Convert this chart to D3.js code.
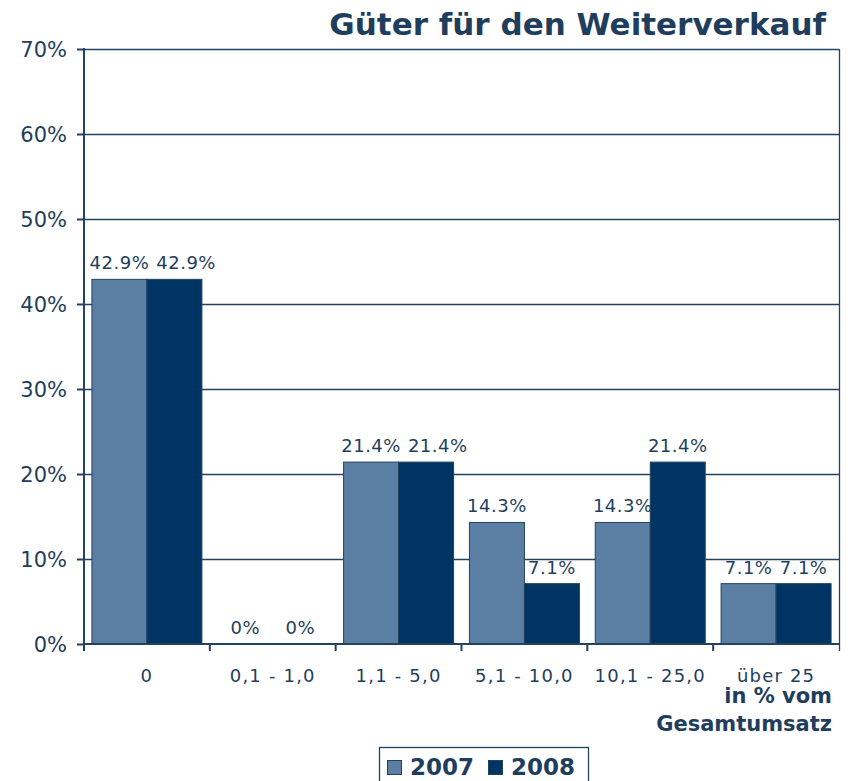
<!DOCTYPE html>
<html>
<head>
<meta charset="utf-8">
<script src="https://cdn.jsdelivr.net/npm/d3@7"></script>
<style>
    body { margin: 0; background: #fff; }
    svg { display: block; font-family: "DejaVu Sans", Verdana, sans-serif; }
</style>
</head>
<body>
<svg id="chart" width="850" height="781"></svg>
<script>
const categories = ["0", "0,1 - 1,0", "1,1 - 5,0", "5,1 - 10,0", "10,1 - 25,0", "über 25"];
const years = ["2007", "2008"];
const values2007 = [42.9, 0, 21.4, 14.3, 14.3, 7.1];
const values2008 = [42.9, 0, 21.4, 7.1, 21.4, 7.1];
const yTicks = [0, 10, 20, 30, 40, 50, 60, 70];

const colors = { "2007": "#5a7fa2", "2008": "#003462" };
const textColor = "#1f3e5d";
const lineColor = "#23425f";

const margin = { left: 84, right: 11, top: 49, bottom: 137 };
const width = 850, height = 781;

const svg = d3.select("#chart");

const x = d3.scaleBand()
    .domain(categories)
    .range([margin.left, width - margin.right]);

const xInner = d3.scaleBand()
    .domain(years)
    .range([0, x.bandwidth()])
    .paddingOuter(0.144);

const y = d3.scaleLinear()
    .domain([0, 70])
    .range([height - margin.bottom, margin.top]);

const rows = categories.map((c, i) => ({
    cat: c,
    vals: [
        { year: "2007", value: values2007[i] },
        { year: "2008", value: values2008[i] },
    ],
}));

// gridlines
svg.append("g")
    .selectAll("line")
    .data(yTicks.filter((t) => t > 0))
    .join("line")
    .attr("x1", margin.left)
    .attr("x2", width - margin.right)
    .attr("y1", (d) => y(d) + 0.5)
    .attr("y2", (d) => y(d) + 0.5)
    .style("stroke", lineColor)
    .style("stroke-width", 1.3);

// right border
svg.append("line")
    .attr("x1", width - margin.right + 0.5)
    .attr("x2", width - margin.right + 0.5)
    .attr("y1", margin.top)
    .attr("y2", y(0) + 7)
    .style("stroke", lineColor)
    .style("stroke-width", 1.3);

// bars
const groups = svg.append("g")
    .selectAll("g")
    .data(rows)
    .join("g")
    .attr("transform", (d) => `translate(${x(d.cat)},0)`);

groups.selectAll("rect")
    .data((d) => d.vals)
    .join("rect")
    .attr("x", (d) => xInner(d.year))
    .attr("width", xInner.bandwidth())
    .attr("y", (d) => y(d.value))
    .attr("height", (d) => y(0) - y(d.value))
    .attr("fill", (d) => colors[d.year])
    .style("stroke", lineColor)
    .style("stroke-width", 1);

// data labels, second one pushed right when it would hit the first
const labelFont = 18;
rows.forEach((r) => {
    let prevEnd = -Infinity, prevY = null;
    r.vals.forEach((v) => {
        const txt = (v.value === 0 ? "0" : v.value.toFixed(1)) + "%";
        const t = svg.append("text")
            .attr("y", y(v.value) - 10)
            .attr("text-anchor", "start")
            .style("font-size", labelFont + "px")
            .style("letter-spacing", "0.5px")
            .style("fill", textColor)
            .text(txt);
        const w = t.node().getComputedTextLength();
        let cx = x(r.cat) + xInner(v.year) + xInner.bandwidth() / 2;
        let start = cx - w / 2;
        if (prevY === y(v.value) && start < prevEnd + 7) start = prevEnd + 7;
        t.attr("x", start);
        prevEnd = start + w;
        prevY = y(v.value);
    });
});

// y axis
const yAxis = svg.append("g");
yAxis.append("line")
    .attr("x1", margin.left)
    .attr("x2", margin.left)
    .attr("y1", margin.top - 1)
    .attr("y2", y(0) + 7)
    .style("stroke", lineColor)
    .style("stroke-width", 2);
yAxis.selectAll("line.tick")
    .data(yTicks)
    .join("line")
    .attr("class", "tick")
    .attr("x1", margin.left - 7)
    .attr("x2", margin.left)
    .attr("y1", (d) => y(d) + 0.5)
    .attr("y2", (d) => y(d) + 0.5)
    .style("stroke", lineColor)
    .style("stroke-width", 2);
yAxis.selectAll("text")
    .data(yTicks)
    .join("text")
    .attr("x", 67)
    .attr("y", (d) => y(d) + 8)
    .attr("text-anchor", "end")
    .style("font-size", "21px")
    .style("fill", textColor)
    .text((d) => d + "%");

// x axis
const xAxis = svg.append("g");
xAxis.append("line")
    .attr("x1", margin.left)
    .attr("x2", width - margin.right)
    .attr("y1", y(0))
    .attr("y2", y(0))
    .style("stroke", lineColor)
    .style("stroke-width", 2);
xAxis.selectAll("line.tick")
    .data(categories.slice(1))
    .join("line")
    .attr("class", "tick")
    .attr("x1", (d) => x(d))
    .attr("x2", (d) => x(d))
    .attr("y1", y(0))
    .attr("y2", y(0) + 7)
    .style("stroke", lineColor)
    .style("stroke-width", 2);
xAxis.selectAll("text")
    .data(categories)
    .join("text")
    .attr("x", (d) => x(d) + x.bandwidth() / 2)
    .attr("y", 682)
    .attr("text-anchor", "middle")
    .style("font-size", "18px")
    .style("letter-spacing", "1.2px")
    .style("fill", textColor)
    .text((d) => d);

// axis title
svg.append("text")
    .attr("x", 832)
    .attr("y", 703)
    .attr("text-anchor", "end")
    .style("font-size", "21px")
    .style("font-weight", "bold")
    .style("fill", textColor)
    .text("in % vom");
svg.append("text")
    .attr("x", 832)
    .attr("y", 731)
    .attr("text-anchor", "end")
    .style("font-size", "21px")
    .style("font-weight", "bold")
    .style("fill", textColor)
    .text("Gesamtumsatz");

// title
svg.append("text")
    .attr("x", 826)
    .attr("y", 35)
    .attr("text-anchor", "end")
    .style("font-size", "31px")
    .style("font-weight", "bold")
    .style("fill", textColor)
    .text("Güter für den Weiterverkauf");

// legend
const legend = svg.append("g").attr("transform", "translate(379,747)");
legend.append("rect")
    .attr("x", 0.5)
    .attr("y", 0.5)
    .attr("width", 209)
    .attr("height", 50)
    .attr("fill", "#fff")
    .style("stroke", lineColor)
    .style("stroke-width", 1.3);
const legendX = { "2007": 8, "2008": 109 };
const items = legend.selectAll("g")
    .data(years)
    .join("g")
    .attr("transform", (d) => `translate(${legendX[d]},0)`);
items.append("rect")
    .attr("x", 0.5)
    .attr("y", 13.5)
    .attr("width", 14)
    .attr("height", 14)
    .attr("fill", (d) => colors[d])
    .style("stroke", lineColor)
    .style("stroke-width", 1);
items.append("text")
    .attr("x", 23)
    .attr("y", 28)
    .style("font-size", "23px")
    .style("font-weight", "bold")
    .style("fill", textColor)
    .text((d) => d);
</script>
</body>
</html>
